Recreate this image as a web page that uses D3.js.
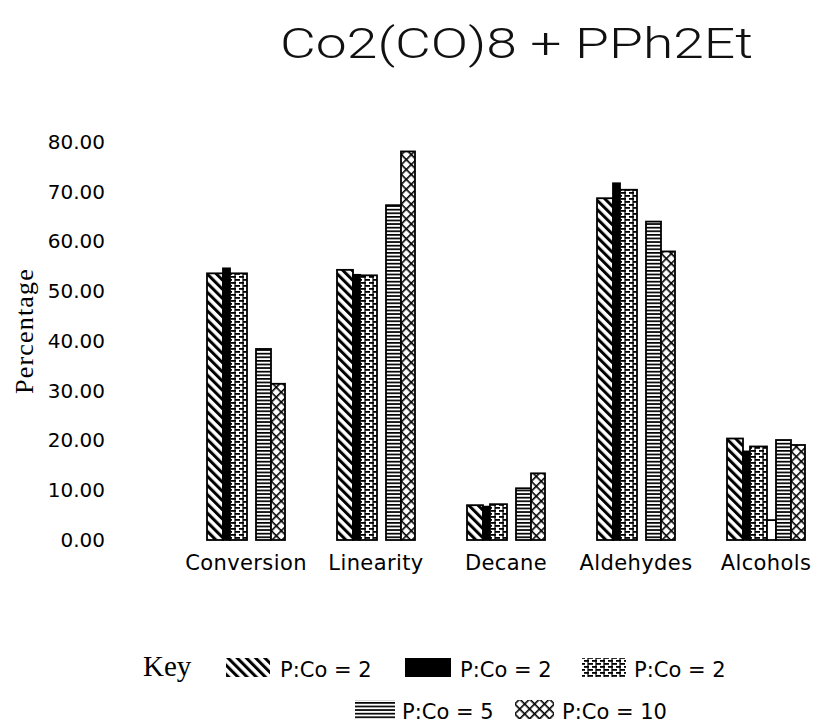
<!DOCTYPE html>
<html>
<head>
<meta charset="utf-8">
<script src="https://cdn.jsdelivr.net/npm/d3@7"></script>
<style>
  html, body { margin: 0; padding: 0; background: #fff; }
  svg { display: block; }
</style>
</head>
<body>
<svg id="chart" width="818" height="727"></svg>
<script>
// ---- data ----
const categories = ["Conversion", "Linearity", "Decane", "Aldehydes", "Alcohols"];
const seriesKeys = ["pco2a", "pco2b", "pco2c", "blank", "pco5", "pco10"];
const seriesLabels = ["P:Co = 2", "P:Co = 2", "P:Co = 2", "", "P:Co = 5", "P:Co = 10"];
const pco2a = [53.6, 54.3, 7.0, 68.7, 20.4];
const pco2b = [54.6, 53.3, 6.7, 71.7, 17.8];
const pco2c = [53.6, 53.2, 7.2, 70.4, 18.8];
const blank = [0, 0, 0, 0, 4.0];
const pco5  = [38.4, 67.3, 10.4, 64.0, 20.1];
const pco10 = [31.4, 78.1, 13.4, 58.0, 19.1];
const yTicks = [0, 10, 20, 30, 40, 50, 60, 70, 80];
const titleText = "Co2(CO)8 + PPh2Et";
const yTitle = "Percentage";

// ---- layout / style ----
const seriesValues = { pco2a, pco2b, pco2c, blank, pco5, pco10 };
const seriesWeight = [16, 7, 17, 9, 15, 14];      // relative slot widths inside a group
const seriesFill = ["url(#hatch)", "#000", "url(#brick)", "#fff", "url(#hlines)", "url(#cross)"];

const svg = d3.select("#chart");
const defs = svg.append("defs");

// diagonal hatch
const pHatch = defs.append("pattern").attr("id", "hatch")
  .attr("patternUnits", "userSpaceOnUse").attr("width", 6.5).attr("height", 6.5)
  .attr("patternTransform", "rotate(-45)");
pHatch.append("rect").attr("width", 6.5).attr("height", 6.5).attr("fill", "#fff");
pHatch.append("rect").attr("x", 0).attr("y", 0).attr("width", 3).attr("height", 6.5).attr("fill", "#000");

// brick-like dashes
const pBrick = defs.append("pattern").attr("id", "brick")
  .attr("patternUnits", "userSpaceOnUse").attr("width", 8).attr("height", 6);
pBrick.append("rect").attr("width", 8).attr("height", 6).attr("fill", "#fff");
pBrick.append("rect").attr("x", 0).attr("y", 0).attr("width", 5).attr("height", 1.8).attr("fill", "#000");
pBrick.append("rect").attr("x", 4).attr("y", 3).attr("width", 5).attr("height", 1.8).attr("fill", "#000");
pBrick.append("rect").attr("x", -4).attr("y", 3).attr("width", 5).attr("height", 1.8).attr("fill", "#000");
pBrick.append("rect").attr("x", 3.4).attr("y", 0).attr("width", 1.2).attr("height", 6).attr("fill", "#000");

// horizontal lines
const pLines = defs.append("pattern").attr("id", "hlines")
  .attr("patternUnits", "userSpaceOnUse").attr("width", 6).attr("height", 3.6);
pLines.append("rect").attr("width", 6).attr("height", 3.6).attr("fill", "#fff");
pLines.append("rect").attr("x", 0).attr("y", 0).attr("width", 6).attr("height", 1.7).attr("fill", "#000");

// cross hatch
const pCross = defs.append("pattern").attr("id", "cross")
  .attr("patternUnits", "userSpaceOnUse").attr("width", 7).attr("height", 7)
  .attr("patternTransform", "rotate(45)");
pCross.append("rect").attr("width", 7).attr("height", 7).attr("fill", "#fff");
pCross.append("rect").attr("x", 0).attr("y", 0).attr("width", 1.6).attr("height", 7).attr("fill", "#000");
pCross.append("rect").attr("x", 0).attr("y", 0).attr("width", 7).attr("height", 1.6).attr("fill", "#000");

// ---- scales ----
const x = d3.scaleBand().domain(categories).range([181, 831]).paddingInner(0.4).paddingOuter(0.2);
const y = d3.scaleLinear().domain([0, 80]).range([540, 142]);
const cum = [0, ...d3.cumsum(seriesWeight)];
const inner = d3.scaleLinear().domain([0, cum[cum.length - 1]]).range([0, x.bandwidth()]);

// ---- title ----
svg.append("text")
  .attr("x", 280).attr("y", 58)
  .attr("textLength", 473).attr("lengthAdjust", "spacingAndGlyphs")
  .style("font-family", "Roboto, 'Liberation Sans', Arial, sans-serif")
  .style("font-size", "43px").style("font-weight", 300)
  .attr("fill", "#111")
  .text(titleText);

// ---- y axis ----
const yAxis = svg.append("g")
  .attr("transform", "translate(112,0)")
  .call(d3.axisLeft(y).tickValues(yTicks).tickSize(0).tickPadding(7).tickFormat(d3.format(".2f")));
yAxis.select(".domain").remove();
yAxis.selectAll("text")
  .style("font-family", "'DejaVu Sans', sans-serif")
  .style("font-size", "20px").attr("fill", "#000");

svg.append("text")
  .attr("transform", "translate(33,331) rotate(-90)")
  .attr("text-anchor", "middle")
  .style("font-family", "'Liberation Serif', 'Times New Roman', serif")
  .style("font-size", "26px").style("letter-spacing", "1.2px")
  .attr("fill", "#000")
  .text(yTitle);

// ---- bars ----
const groups = svg.append("g").selectAll("g")
  .data(categories).join("g")
  .attr("transform", d => `translate(${x(d)},0)`);

groups.each(function(cat, ci) {
  const g = d3.select(this);
  seriesKeys.forEach((key, si) => {
    const v = seriesValues[key][ci];
    g.append("rect")
      .attr("x", inner(cum[si]))
      .attr("width", inner(cum[si + 1]) - inner(cum[si]))
      .attr("y", y(v))
      .attr("height", y(0) - y(v))
      .attr("fill", seriesFill[si])
      .attr("stroke", "#000").attr("stroke-width", 1.8);
  });
});

// ---- x category labels ----
svg.append("g").selectAll("text")
  .data(categories).join("text")
  .attr("x", d => x(d) + x.bandwidth() / 2)
  .attr("y", 570)
  .attr("text-anchor", "middle")
  .style("font-family", "'DejaVu Sans', sans-serif")
  .style("font-size", "21px").style("letter-spacing", "0.4px")
  .attr("fill", "#000")
  .text(d => d);

// ---- legend ----
const legend = svg.append("g");
legend.append("text")
  .attr("x", 143).attr("y", 676)
  .style("font-family", "'Liberation Serif', 'Times New Roman', serif")
  .style("font-size", "29px").attr("fill", "#000")
  .text("Key");

const legendItems = [
  { si: 0, sx: 226, w: 44, tx: 280, ty: 677 },
  { si: 1, sx: 405, w: 46, tx: 460, ty: 677 },
  { si: 2, sx: 582, w: 44, tx: 634, ty: 677 },
  { si: 4, sx: 355, w: 40, tx: 402, ty: 719 },
  { si: 5, sx: 515, w: 39, tx: 562, ty: 719 }
];
legendItems.forEach(it => {
  legend.append("rect")
    .attr("x", it.sx).attr("y", it.ty - 19)
    .attr("width", it.w).attr("height", 19)
    .attr("fill", seriesFill[it.si]);
  legend.append("text")
    .attr("x", it.tx).attr("y", it.ty)
    .style("font-family", "'DejaVu Sans', sans-serif")
    .style("font-size", "21px").attr("fill", "#000")
    .text(seriesLabels[it.si]);
});
</script>
</body>
</html>
